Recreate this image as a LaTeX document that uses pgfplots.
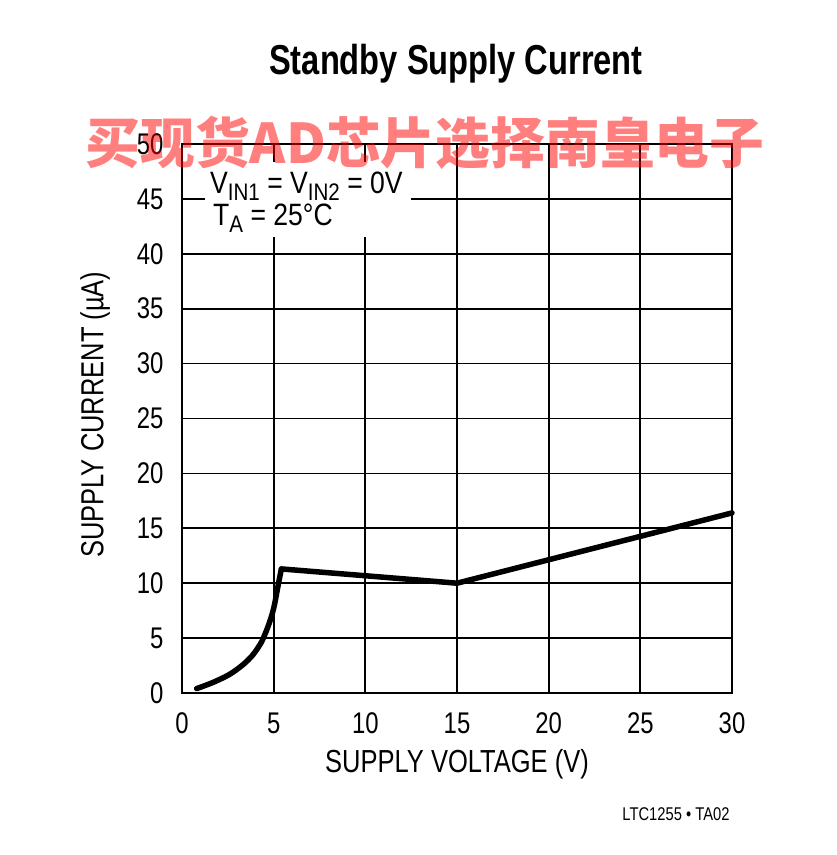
\documentclass[border=0pt]{standalone}
\usepackage{fontspec}
\setmainfont{Liberation Sans}[FakeStretch=0.8]
\newfontfamily\titlefont{Liberation Sans}[FakeStretch=0.78]
\newfontfamily\annfont{Liberation Sans}[FakeStretch=0.86]
\newfontfamily\cjk{Noto Sans CJK SC}
\usepackage{pgfplots}
\usepackage{pgfplotstable}
\pgfplotsset{compat=1.18}

% rising part below 5.5 V (smooth), then the two straight segments
\pgfplotstableread{
v     i
0.8   0.4
1.7   0.97
2.6   1.7
3.33  2.58
3.87  3.48
4.32  4.6
4.62  5.74
4.86  6.87
5.04  8.0
5.22  9.6
5.42  11.3
}\rise
\pgfplotstableread{
v     i
5.42  11.3
15    10.0
30    16.4
}\linear

\begin{document}
\begin{tikzpicture}[x=1bp,y=1bp]
\path (0,0) rectangle (837,855);
\begin{axis}[
    at={(182bp,162bp)}, anchor=south west,
    scale only axis,
    width=550bp, height=549bp,
    xmin=0, xmax=30, ymin=0, ymax=50,
    xtick={0,5,...,30}, ytick={0,5,...,50},
    grid=major,
    major grid style={black, line width=1.7bp},
    axis line style={black, line width=2.8bp},
    major tick length=0pt,
    /pgf/number format/assume math mode=true,
    tick label style={font=\fontsize{30}{32}\selectfont},
    xticklabel style={yshift=-16bp},
    yticklabel style={xshift=-15bp},
    xlabel={SUPPLY VOLTAGE (V)},
    ylabel={SUPPLY CURRENT (µA)},
    label style={font=\fontsize{32}{34}\selectfont},
    x label style={at={(axis description cs:0.5,-0.13)}, anchor=center},
    y label style={at={(axis description cs:-0.158,0.507)}, anchor=center},
    clip=false,
]
\fill[white] (axis cs:1.25,41.5) rectangle (axis cs:12.5,48.4);
\addplot[black, line width=5.5bp, line cap=round, smooth] table[x=v, y=i] {\rise};
\addplot[black, line width=5.5bp, line join=miter, line cap=round] table[x=v, y=i] {\linear};
\end{axis}

\node[anchor=base] at (456,780) {\titlefont\bfseries\fontsize{42}{44}\selectfont Standby Supply Current};

\node[anchor=base west, inner sep=0pt] at (210,661) {\annfont\fontsize{31}{33}\selectfont
  V\raisebox{-6.5bp}{\fontsize{24}{24}\selectfont IN1} = V\raisebox{-6.5bp}{\fontsize{24}{24}\selectfont IN2} = 0V};
\node[anchor=base west, inner sep=0pt] at (213,629) {\annfont\fontsize{31}{33}\selectfont
  T\raisebox{-6.5bp}{\fontsize{24}{24}\selectfont A} = 25°C};

\node[anchor=base, inner sep=0pt] at (676,34) {\fontsize{18.5}{20}\selectfont LTC1255 • TA02};

\node[text=red, opacity=0.5, inner sep=0pt] at (425,712) {\cjk\bfseries\fontsize{55}{58}\selectfont 买现货AD芯片选择南皇电子};
\end{tikzpicture}
\end{document}
